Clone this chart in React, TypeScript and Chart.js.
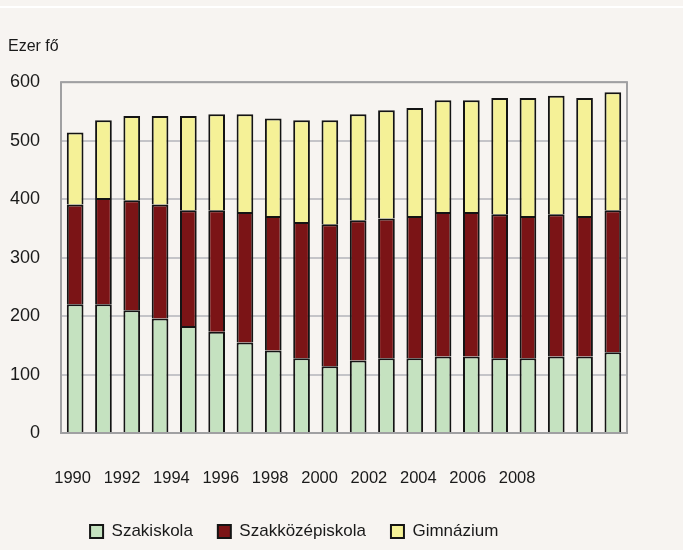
import React, { useEffect, useRef } from 'react';
import { Chart, registerables } from 'chart.js';

Chart.register(...registerables);

const years = ['1990', '1991', '1992', '1993', '1994', '1995', '1996', '1997', '1998', '1999', '2000', '2001', '2002', '2003', '2004', '2005', '2006', '2007', '2008', '2009'];
const szakiskola = [220, 220, 210, 196, 183, 173, 155, 141, 128, 114, 124, 128, 128, 131, 131, 128, 128, 131, 131, 138];
const szakkozepiskola = [171, 182, 188, 195, 198, 208, 223, 230, 233, 243, 240, 239, 243, 247, 247, 246, 243, 243, 240, 243];
const gimnazium = [123, 133, 144, 151, 161, 164, 167, 167, 174, 178, 181, 185, 185, 191, 191, 199, 202, 203, 202, 202];
const yTickValues = [0, 100, 200, 300, 400, 500, 600];
const yearTickLabels = [1990, 1992, 1994, 1996, 1998, 2000, 2002, 2004, 2006, 2008];

const FONT = "'Liberation Sans', Arial, sans-serif";
const TEXT = '#1a1a1a';
const BG = '#f7f4f1';

const framePlugin = {
  id: 'frame',
  beforeDatasetsDraw(chart: any) {
    const { ctx, chartArea: a } = chart;
    ctx.save();
    ctx.strokeStyle = '#a0a0a2';
    ctx.lineWidth = 2;
    ctx.strokeRect(a.left, a.top, a.right - a.left, a.bottom - a.top);
    ctx.restore();
  },
};

export default function App() {
  const ref = useRef<HTMLCanvasElement | null>(null);

  useEffect(() => {
    if (!ref.current) return;
    const border = '#141414';
    const chart = new Chart(ref.current, {
      type: 'bar',
      data: {
        labels: years,
        datasets: [
          { label: 'Szakiskola', data: szakiskola, backgroundColor: '#c5e2c0', borderColor: border, borderWidth: 2 },
          { label: 'Szakközépiskola', data: szakkozepiskola, backgroundColor: '#7b1416', borderColor: border, borderWidth: 2 },
          { label: 'Gimnázium', data: gimnazium, backgroundColor: '#f5f197', borderColor: border, borderWidth: 2 },
        ],
      },
      options: {
        responsive: false,
        animation: false,
        layout: { padding: { left: 8, right: 56, top: 0, bottom: 0 } },
        datasets: { bar: { barPercentage: 0.59, categoryPercentage: 1 } },
        scales: {
          x: { stacked: true, display: false, offset: true },
          x2: {
            type: 'linear',
            position: 'bottom',
            offset: false,
            min: 1989.53,
            max: 2012.45,
            afterBuildTicks: (s: any) => {
              s.ticks = yearTickLabels.map((v) => ({ value: v }));
            },
            afterFit: (s: any) => {
              s.height = 65;
            },
            ticks: {
              callback: (v: any) => String(v),
              padding: 36,
              maxRotation: 0,
              autoSkip: false,
              font: { family: FONT, size: 16.5 },
              color: TEXT,
            },
            grid: { display: false, drawTicks: false, offset: false },
            border: { display: false },
          },
          y: {
            stacked: true,
            min: 0,
            max: 600,
            afterBuildTicks: (s: any) => {
              s.ticks = yTickValues.map((v) => ({ value: v }));
            },
            afterFit: (s: any) => {
              s.width = 53;
            },
            ticks: { padding: 21, font: { family: FONT, size: 18 }, color: TEXT },
            grid: { color: '#c4c4c8', lineWidth: 2, drawTicks: false },
            border: { display: false },
          },
        },
        plugins: {
          title: {
            display: true,
            text: 'Ezer fő',
            align: 'start',
            color: TEXT,
            font: { family: FONT, size: 16, weight: 'normal' },
            padding: { top: 37, bottom: 26 },
          },
          legend: {
            position: 'bottom',
            labels: {
              boxWidth: 13,
              boxHeight: 13,
              padding: 25,
              color: TEXT,
              font: { family: FONT, size: 17 },
              generateLabels: (c: any) => {
                const items = (Chart.defaults.plugins.legend.labels as any).generateLabels(c);
                items.push({
                  text: '',
                  fillStyle: 'rgba(0,0,0,0)',
                  strokeStyle: 'rgba(0,0,0,0)',
                  lineWidth: 0,
                  hidden: false,
                  datasetIndex: 99,
                });
                return items;
              },
            },
          },
          tooltip: { enabled: false },
        },
      },
      plugins: [framePlugin],
    } as any);
    return () => chart.destroy();
  }, []);

  return (
    <div style={{ position: 'fixed', left: 0, top: 0, width: 683, height: 550, background: BG, overflow: 'hidden' }}>
      <div style={{ position: 'absolute', left: 0, top: 6, width: 683, height: 2, background: '#ffffff' }} />
      <canvas ref={ref} width={683} height={550} style={{ position: 'absolute', left: 0, top: 0, display: 'block' }} />
    </div>
  );
}
